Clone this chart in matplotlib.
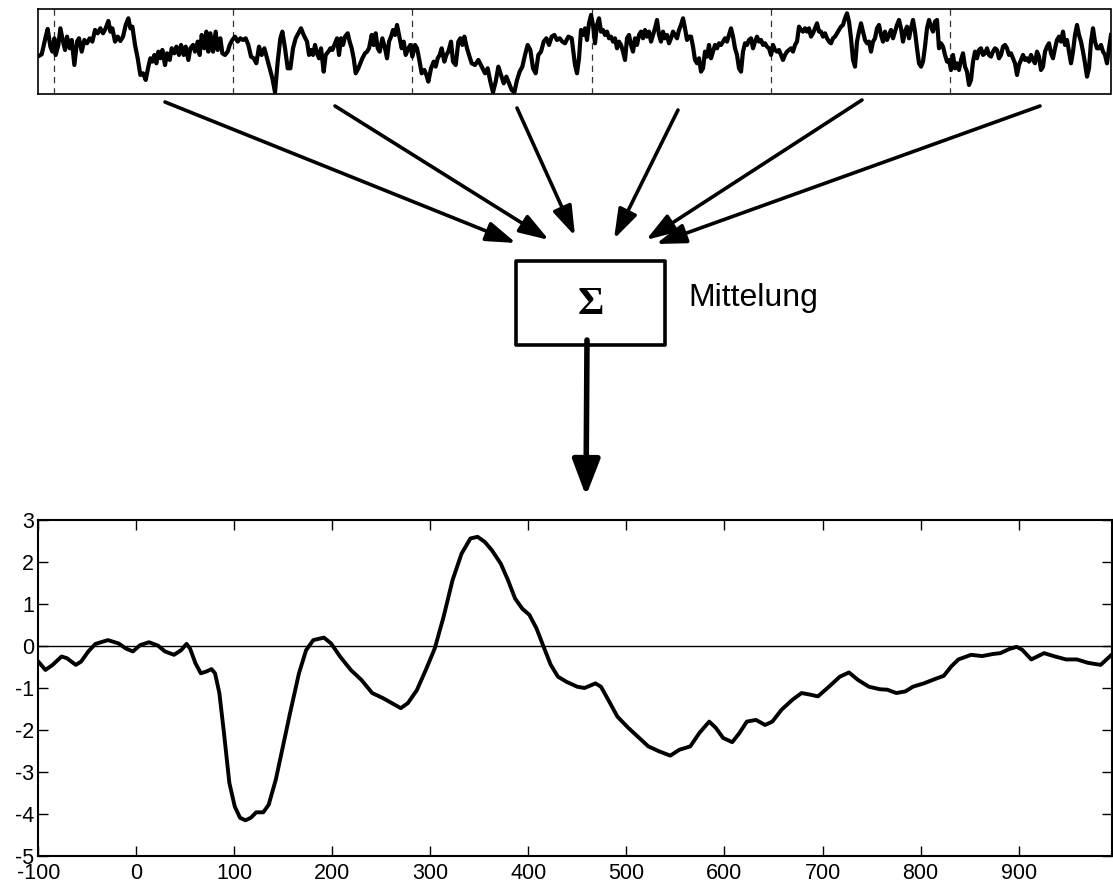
import matplotlib.pyplot as plt
import numpy as np
from matplotlib.patches import Rectangle

# single trials (concatenated)
trial_t = [
    -98, -74, -50, -38, -22, -10, 2, 10, 26, 38, 54, 66, 78, 94, 106, 122, 138, 150, 166, 182,
    198, 214, 230, 246, 262, 278, 294, 310, 326, 338, 350, 366, 382, 398, 414, 430, 446, 458, 470, 486,
    502, 518, 534, 550, 566, 578, 590, 602, 614, 626, 638, 650, 666, 678, 694, 706, 722, 734, 750, 762,
    778, 790, 806, 818, 834, 846, 862, 874, 886, 902, 914, 926, 938, 954, 970, 982, 998, 1010, 1026, 1042,
    1054, 1070, 1086, 1102, 1118, 1134, 1150, 1166, 1182, 1198, 1214, 1230, 1246, 1262, 1278, 1294, 1310, 1326, 1342, 1358,
    1370, 1386, 1402, 1418, 1434, 1450, 1466, 1482, 1498,
    1518, 1530, 1542, 1554, 1566, 1578, 1590, 1602, 1618, 1630, 1646, 1658, 1670, 1686, 1698, 1710, 1722, 1734, 1746, 1762,
    1774, 1786, 1798, 1810, 1826, 1838, 1850, 1866, 1878, 1890, 1906, 1918, 1930, 1942, 1954, 1970, 1986, 1998, 2010, 2022,
    2034, 2046, 2058, 2070, 2086, 2098, 2110, 2126, 2138, 2150, 2166, 2178, 2190, 2206, 2222, 2234, 2246, 2262, 2278, 2290,
    2302, 2314, 2326, 2342, 2354, 2366, 2382, 2394, 2410, 2426, 2438, 2450, 2462, 2478, 2490, 2506, 2526, 2546, 2566, 2586,
    2602, 2618, 2634, 2650, 2666, 2682, 2698, 2714, 2730, 2746, 2762, 2778, 2794, 2810, 2826, 2842, 2858, 2874, 2890, 2906,
    2922, 2938, 2954, 2970, 2986, 3002, 3018, 3034, 3050, 3066, 3086, 3106,
    3126, 3138, 3150, 3162, 3174, 3186, 3198, 3210, 3222, 3234, 3246, 3258, 3270, 3282, 3294, 3306, 3318, 3330, 3342, 3354,
    3366, 3378, 3390, 3402, 3414, 3426, 3438, 3450, 3462, 3474, 3486, 3498, 3510, 3522, 3534, 3546, 3558, 3570, 3582, 3594,
    3606, 3618, 3630, 3642, 3654, 3666, 3678, 3690, 3702, 3714, 3726, 3738, 3750, 3762, 3774, 3786, 3798, 3810, 3822, 3834,
    3846, 3858, 3870, 3882, 3894, 3906, 3918, 3930, 3942, 3954, 3966, 3978, 3990, 4002, 4014, 4026, 4038, 4050, 4062, 4074,
    4086, 4098, 4110, 4122, 4134, 4146, 4158, 4170, 4182, 4194, 4206, 4218, 4230, 4242, 4254, 4266, 4278, 4290, 4302, 4314,
    4326, 4338, 4350, 4362, 4374, 4386, 4398, 4410, 4422, 4434, 4446, 4458, 4470, 4482, 4494, 4506, 4518, 4530, 4542, 4554,
    4566, 4578, 4590, 4602, 4614, 4626, 4638, 4650, 4662, 4674, 4686, 4698, 4710, 4722,
    4734, 4746, 4758, 4770, 4782, 4794, 4806, 4818, 4830, 4842, 4854, 4866, 4878, 4890, 4902, 4914, 4926, 4938, 4950, 4962,
    4974, 4986, 4998, 5010, 5022, 5034, 5046, 5058, 5070, 5082, 5094, 5106, 5118, 5130, 5142, 5154, 5166, 5178, 5190, 5202,
    5214, 5226, 5238, 5250, 5262, 5274, 5286, 5298, 5310, 5322, 5334, 5346, 5358, 5370, 5382, 5394, 5406, 5418, 5430, 5442,
    5454, 5466, 5478, 5490, 5502, 5514, 5526, 5538, 5550, 5562, 5574, 5586, 5598, 5610, 5622, 5634, 5646, 5658, 5670, 5682,
    5694, 5706, 5718, 5730, 5742, 5754, 5766, 5778, 5790, 5802, 5814, 5826, 5838, 5850, 5862, 5874, 5886, 5898, 5910, 5922,
    5934, 5946, 5958, 5970, 5982, 5994, 6006, 6018, 6030, 6042, 6054, 6066, 6078, 6090, 6102, 6114, 6126, 6138, 6150, 6162,
    6174, 6186, 6198, 6210, 6222, 6234, 6246, 6258, 6270, 6282, 6294, 6306, 6318, 6330, 6342,
]
trial_v = [
    -1.5, -0.8, 4.5, 6.8, 1.5, 0.0, 4.0, -1.0, 2.0, 7.0, 3.0, 0.5, 4.5, 1.0, 3.5, -4.0, 3.0, 4.0, 0.0, 3.5,
    2.5, 4.0, 3.0, 6.5, 5.5, 7.0, 5.5, 7.0, 9.2, 6.0, 7.0, 3.0, 4.5, 3.2, 4.5, 8.0, 10.0, 7.0, 7.5, 2.0,
    -2.0, -7.0, -6.5, -8.5, -4.5, -2.0, -3.0, -1.0, -3.5, 0.0, -2.0, 0.5, -4.0, -0.5, -2.5, 1.0, -0.5, 1.5, -1.0, 2.0,
    -1.0, 1.5, -2.5, 1.0, 2.0, 0.0, 3.0, -1.0, 5.0, 1.0, 6.0, 0.0, 5.5, 0.0, 6.0, 0.5, 4.0, -0.5, -1.0, 0.0,
    2.0, 3.5, 4.5, 3.0, 4.0, 3.5, 4.0, 2.0, -1.5, -2.0, -3.5, 1.5, -1.0, 1.0, -2.0, -5.0, -8.0, -12.2, -3.0, 4.0,
    6.0, 1.0, -5.0, -5.0, 1.0, 4.0, 5.5, 7.0, 5.0,
    3.0, -1.0, 0.5, -1.0, 2.0, -0.5, -2.0, 1.0, -6.0, -1.0, 0.0, 1.0, 0.5, 2.5, 4.0, -1.0, 4.0, 2.0, 4.5, 5.5,
    3.0, 1.0, -2.0, -6.5, -5.0, -3.5, -2.0, -0.5, 0.0, 1.0, 5.0, 2.0, 5.5, 1.0, 0.0, 4.0, 1.0, -2.0, 3.0, 4.5,
    6.5, 5.0, 8.0, 5.0, 1.0, 3.0, -1.0, 1.0, 2.0, -1.5, 2.0, 1.0, -2.0, -6.5, -5.5, -7.0, -9.0, -5.0, -3.0, -4.5,
    -2.0, -1.0, 1.0, -3.0, -1.0, 0.0, 3.0, -3.0, -4.0, 3.0, 4.0, 2.0, 4.5, 1.0, -1.0, -3.5, -4.0, -2.5, -4.5, -6.5,
    -5.0, -9.0, -12.2, -9.0, -4.5, -7.0, -9.5, -7.5, -9.5, -11.5, -12.2, -8.5, -6.0, -4.5, -1.0, 2.0, 0.5, -5.0, -6.5, -1.0,
    0.0, 3.0, 4.0, 2.0, 4.5, 5.0, 3.5, 4.0, 3.0, 2.5, 4.5, 4.0,
    -4.0, -6.5, -2.0, 6.5, 5.0, 7.0, 3.5, 8.5, 11.0, 8.0, 2.5, 8.0, 10.0, 6.0, 6.5, 5.0, 6.0, 4.0, 4.5, 3.0,
    4.0, 1.0, 3.0, 2.0, 0.0, -2.5, 4.0, 5.0, 2.0, 0.0, 4.0, 2.0, 5.0, 6.0, 4.0, 6.5, 4.5, 6.0, 3.0, 5.0,
    7.0, 9.5, 5.0, 3.0, 6.0, 4.0, 5.0, 2.5, 4.0, 6.0, 5.0, 4.0, 6.5, 8.0, 10.0, 7.0, 3.5, 4.5, 4.5, 1.5,
    -2.5, -3.5, -2.0, -6.0, -5.0, 0.0, -1.5, 2.0, -2.0, 0.0, 2.0, 1.0, 2.5, 2.0, 3.0, 4.0, 3.0, 5.0, 7.0, 4.5,
    1.0, -1.0, -5.0, -6.0, 0.0, 2.5, 2.0, 3.5, 4.0, 1.0, 3.0, 4.5, 3.0, 3.5, 2.0, 2.5, 1.5, 1.0, -1.0, 2.0,
    0.5, 0.0, 0.5, -1.0, -2.5, -1.0, 0.0, 0.5, 1.0, 0.0, 2.0, 3.0, 7.5, 6.5, 6.0, 7.0, 6.0, 7.0, 4.5, 5.5,
    7.0, 8.5, 6.0, 6.0, 4.5, 5.5, 4.0, 3.0, 2.5, 4.0, 4.5, 5.5, 6.5, 7.5,
    8.0, 10.0, 11.5, 9.0, 4.0, -2.5, -4.5, 3.0, 6.0, 8.5, 6.0, 3.5, 2.5, 3.0, 0.0, 3.0, 4.0, 7.0, 8.0, 5.0,
    3.0, 6.0, 3.5, 5.0, 6.5, 4.0, 6.0, 8.0, 9.5, 7.0, 3.0, 6.0, 7.5, 4.0, 7.0, 9.5, 6.0, 1.0, -3.5, -4.5,
    -3.0, 1.5, 7.0, 9.5, 7.5, 6.0, 9.0, 9.5, 1.0, 2.5, 1.5, -1.0, -3.0, -2.5, -5.5, -1.0, -5.0, -3.5, -5.5, -2.5,
    -0.5, -4.5, -6.0, -10.0, -8.5, -3.0, 0.0, -2.0, 0.5, 1.0, -1.0, -0.5, 1.0, -1.0, -1.5, 0.0, 1.0, 0.5, -2.0, -1.0,
    1.5, 2.0, 1.0, -1.0, -0.5, -2.0, -3.5, -7.0, -4.0, -2.5, -1.0, -2.5, -2.0, -3.0, -1.0, -2.5, -3.5, 0.0, -1.5, -5.5,
    -4.5, 0.0, 1.5, 2.5, -0.5, -2.0, 1.0, 3.5, 4.5, 3.0, 6.0, 2.0, 3.5, 0.0, -3.5, 0.0, 5.0, 8.0, 5.0, 3.0,
    0.0, -3.5, -7.5, -5.0, 3.0, 7.0, 3.0, 1.0, 1.0, 2.0, 0.0, -1.0, -3.5, 1.0, 5.0,
]
onsets = [0, 1075, 2150, 3225, 4300, 5375]

# averaged response
erp_t = [
    -100, -92.7, -85.4, -76.3, -70.9, -61.7, -56.3, -49.0, -41.7, -29.0, -18.0, -10.7, -3.5, 3.8, 12.9, 22.0,
    29.3, 38.4, 45.7, 51.2, 54.8, 60.3, 65.8, 71.2, 76.7, 80.3, 84.7, 89.4, 94.9, 100.4, 105.8, 111.3,
    116.8, 122.3, 129.5, 135.0, 142.3, 149.5, 156.8, 165.9, 173.2, 180.5, 191.4, 198.7, 207.8, 218.8, 229.7, 240.6,
    251.5, 260.7, 269.8, 277.0, 286.2, 295.3, 304.4, 313.5, 322.6, 331.8, 340.8, 348.1, 355.4, 362.7, 371.8, 379.1,
    386.4, 393.7, 401.0, 408.2, 415.5, 422.8, 430.1, 438.6, 449.8, 457.2, 468.4, 474.0, 481.4, 490.7, 501.9, 513.0,
    522.3, 533.5, 544.7, 554.0, 565.1, 574.4, 584.4, 591.2, 598.6, 607.9, 615.3, 622.8, 632.1, 641.4, 648.8, 658.1,
    669.3, 678.6, 687.9, 695.3, 706.5, 717.7, 727.0, 736.3, 747.4, 758.6, 766.0, 775.3, 784.7, 792.1, 803.3, 814.4,
    823.7, 831.2, 838.6, 851.6, 862.8, 874.0, 881.4, 890.7, 898.1, 903.7, 913.0, 926.0, 937.2, 948.4, 959.5, 970.7,
    983.7, 989.3, 994.9,
]
erp_v = [
    -0.37, -0.57, -0.45, -0.25, -0.29, -0.45, -0.37, -0.13, 0.05, 0.14, 0.06, -0.06, -0.13, 0.02, 0.09, 0.01,
    -0.13, -0.21, -0.10, 0.05, -0.06, -0.41, -0.65, -0.61, -0.55, -0.65, -1.12, -2.07, -3.26, -3.82, -4.09, -4.15,
    -4.09, -3.96, -3.96, -3.78, -3.18, -2.39, -1.60, -0.65, -0.10, 0.14, 0.20, 0.06, -0.25, -0.57, -0.81, -1.12,
    -1.24, -1.36, -1.48, -1.36, -1.05, -0.57, -0.06, 0.70, 1.57, 2.20, 2.56, 2.60, 2.48, 2.28, 1.96, 1.57,
    1.13, 0.89, 0.74, 0.42, -0.02, -0.45, -0.73, -0.85, -0.97, -1.00, -0.89, -0.97, -1.28, -1.68, -1.95, -2.19,
    -2.39, -2.51, -2.61, -2.47, -2.39, -2.07, -1.80, -1.95, -2.19, -2.29, -2.07, -1.80, -1.76, -1.88, -1.80, -1.52,
    -1.28, -1.12, -1.16, -1.20, -0.97, -0.73, -0.63, -0.81, -0.97, -1.03, -1.04, -1.12, -1.08, -0.97, -0.89, -0.79,
    -0.71, -0.49, -0.32, -0.21, -0.24, -0.19, -0.17, -0.07, -0.02, -0.09, -0.32, -0.17, -0.25, -0.32, -0.32, -0.40,
    -0.45, -0.33, -0.21,
]
x_ticks = [-100, 0, 100, 200, 300, 400, 500, 600, 700, 800, 900]
y_ticks = [-5, -4, -3, -2, -1, 0, 1, 2, 3]

plt.rcParams["font.family"] = ["Liberation Sans", "DejaVu Sans"]
plt.rcParams["axes.unicode_minus"] = False

fig = plt.figure(figsize=(11.13, 8.92), dpi=100)
W, H = 1113, 892

# overlay for the box and the arrows (pixel coordinates, y downwards)
ov = fig.add_axes([0, 0, 1, 1], zorder=0)
ov.set_xlim(0, W)
ov.set_ylim(H, 0)
ov.axis("off")

# top strip: raw trials
ax_top = fig.add_axes([37.7 / W, 1 - 94.3 / H, (1110.5 - 37.7) / W, 85 / H], zorder=2)
ax_top.plot(trial_t, trial_v, color="k", lw=3.0, solid_joinstyle="round")
for t0 in onsets:
    ax_top.axvline(t0, color="#333333", lw=0.9, ls=(0, (5, 4)), zorder=0)
ax_top.set_xlim(-98, 6339)
ax_top.set_ylim(-12.8, 12.7)
ax_top.set_xticks([])
ax_top.set_yticks([])
for s in ax_top.spines.values():
    s.set_linewidth(1.2)

# arrows from the trials into the averaging box
arrow_tails = [(165, 102), (335, 106), (517, 108), (678, 110), (862, 100), (1040, 106)]
arrow_tips = [(516, 243), (549, 240), (575, 236), (614, 239), (646, 240), (656, 244)]
for (x0, y0), (x1, y1) in zip(arrow_tails, arrow_tips):
    ov.annotate("", xy=(x1, y1), xytext=(x0, y0),
                arrowprops=dict(arrowstyle="-|>,head_length=0.9,head_width=0.3",
                                lw=2.6, color="k", shrinkA=0, shrinkB=0,
                                mutation_scale=20))

ov.add_patch(Rectangle((516, 261), 149, 84, fill=False, lw=2.6, ec="k",
                       joinstyle="round"))
ov.text(591, 305, "\u03a3", ha="center", va="center", fontsize=29,
        family=["Liberation Serif", "DejaVu Serif"], fontweight="bold")
ov.text(688, 298, "Mittelung", ha="left", va="center", fontsize=23)
ov.annotate("", xy=(586, 496), xytext=(587, 340),
            arrowprops=dict(arrowstyle="-|>,head_length=1.1,head_width=0.42",
                            lw=4, color="k", shrinkA=0, shrinkB=0,
                            mutation_scale=20))

# bottom: averaged response
ax = fig.add_axes([38.3 / W, 1 - 856 / H, (1111.7 - 38.3) / W, (856 - 520) / H], zorder=2)
ax.axhline(0, color="k", lw=1.0)
ax.plot(erp_t, erp_v, color="k", lw=2.8)
ax.set_xlim(-100, 995)
ax.set_ylim(-5, 3)
ax.set_xticks(x_ticks)
ax.set_yticks(y_ticks)
ax.tick_params(direction="in", length=7, width=1, top=True, right=True,
               labelsize=15.5)
ax.tick_params(axis="x", pad=5)
ax.tick_params(axis="y", pad=3)
for s in ax.spines.values():
    s.set_linewidth(1.5)

fig.savefig("out.png", dpi=100)
